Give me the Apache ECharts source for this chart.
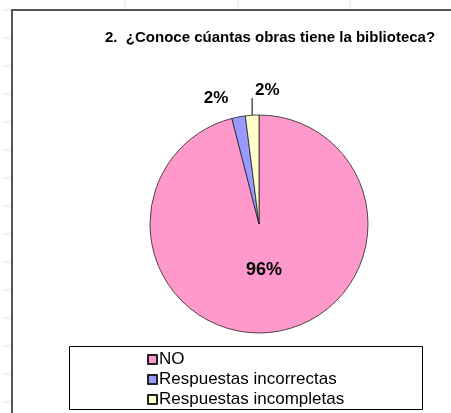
<!DOCTYPE html>
<html>
<head>
<meta charset="utf-8">
<script src="https://cdn.jsdelivr.net/npm/echarts@6/dist/echarts.min.js"></script>
<style>
  html, body { margin: 0; padding: 0; background: #fff; }
  #chart { width: 451px; height: 413px; }
</style>
</head>
<body>
<div id="chart"></div>
<script>
// datos del gráfico
const categories = ['NO', 'Respuestas incorrectas', 'Respuestas incompletas'];
const values = [96, 2, 2];
const colors = ['#FF99CC', '#9999FF', '#FFFFCC'];

const myChart = echarts.init(document.getElementById('chart'));

// líneas tenues de la hoja de cálculo detrás del gráfico
const sheetLines = [];
[125, 238, 350].forEach(function (x) {
  sheetLines.push({ type: 'line', shape: { x1: x, y1: 0, x2: x, y2: 10 }, style: { stroke: '#e4e4e4', lineWidth: 1 } });
});
for (let y = 10; y < 413; y += 28) {
  sheetLines.push({ type: 'line', shape: { x1: 4, y1: y, x2: 12, y2: y }, style: { stroke: '#e4e4e4', lineWidth: 1 } });
}

const option = {
  backgroundColor: '#fff',
  animation: false,
  title: {
    text: '2.  ¿Conoce cúantas obras tiene la biblioteca?',
    left: 100,
    top: 25,
    textStyle: {
      fontFamily: 'Liberation Sans, Arial',
      fontSize: 15,
      fontWeight: 'bold',
      color: '#000'
    }
  },
  legend: {
    orient: 'vertical',
    left: 142,
    top: 346,
    itemWidth: 9,
    itemHeight: 9,
    itemGap: 3,
    icon: 'rect',
    data: categories,
    textStyle: {
      fontFamily: 'Liberation Sans, Arial',
      fontSize: 17,
      color: '#000',
      padding: [0, 0, 0, -3]
    }
  },
  graphic: sheetLines.concat([
    // marco del gráfico
    { type: 'polyline', shape: { points: [[12, 420], [12, 10], [460, 10]] }, style: { stroke: '#555', lineWidth: 2, fill: null } },
    // caja de la leyenda
    { type: 'rect', z: -1, shape: { x: 69.5, y: 346.5, width: 353, height: 63 }, style: { stroke: '#000', lineWidth: 1, fill: '#fff' } }
  ]),
  series: [
    {
      type: 'pie',
      center: [259, 224],
      radius: 109,
      startAngle: 90,
      clockwise: true,
      avoidLabelOverlap: false,
      itemStyle: { borderColor: '#222', borderWidth: 0.8 },
      label: {
        fontFamily: 'Liberation Sans, Arial',
        fontSize: 17,
        fontWeight: 'bold',
        color: '#000',
        formatter: '{d}%'
      },
      data: categories.map(function (name, i) {
        const item = { name: name, value: values[i], itemStyle: { color: colors[i] } };
        if (i === 0) {
          item.label = { position: 'inside', fontSize: 18 };
        } else {
          item.label = { position: 'outside' };
          item.labelLine = { show: i === 2, length: 14, length2: 0, lineStyle: { color: '#000', width: 1 } };
        }
        return item;
      }),
      labelLayout: function (params) {
        if (params.dataIndex === 0) {
          return { x: 264, y: 270, align: 'center', verticalAlign: 'middle' };
        }
        if (params.dataIndex === 1) {
          return { x: 216, y: 98, align: 'center', verticalAlign: 'middle' };
        }
        // línea guía vertical desde el borde del sector
        const p0 = params.labelLinePoints ? params.labelLinePoints[0] : [252, 115];
        return {
          x: 255, y: 99, align: 'left', verticalAlign: 'bottom',
          labelLinePoints: [[p0[0], p0[1]], [p0[0], 98], [p0[0], 98]]
        };
      }
    }
  ]
};

myChart.setOption(option);
</script>
</body>
</html>
